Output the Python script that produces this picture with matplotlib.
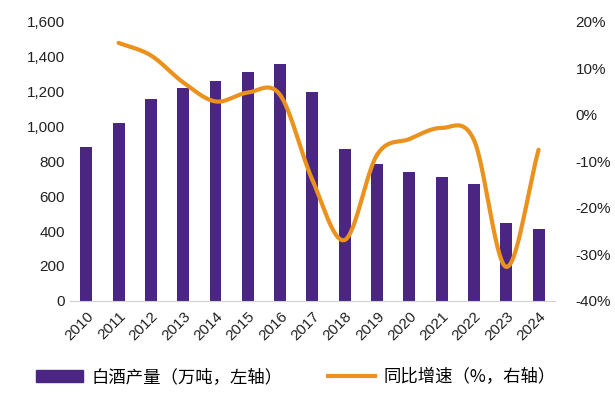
import numpy as np
import matplotlib.pyplot as plt
from matplotlib.patches import Patch
from matplotlib.lines import Line2D

plt.rcParams['font.family'] = ['Liberation Sans', 'Noto Sans CJK SC', 'DejaVu Sans']

years = ['2010', '2011', '2012', '2013', '2014', '2015', '2016', '2017',
         '2018', '2019', '2020', '2021', '2022', '2023', '2024']
output = [885, 1020, 1157, 1223, 1260, 1315, 1360, 1200,
          872, 785, 738, 713, 671, 445, 412]
growth = [None, 15.5, 12.8, 7.0, 2.9, 4.8, 4.3, -14.0,
          -26.9, -8.6, -5.2, -2.8, -5.4, -32.7, -7.5]

PURPLE = '#4a2682'
ORANGE = '#ea921d'


def smooth(xs, ys, n=30):
    # catmull-rom style smoothing like Excel's smoothed line
    xs = np.asarray(xs, float)
    ys = np.asarray(ys, float)
    px = np.concatenate([[2 * xs[0] - xs[1]], xs, [2 * xs[-1] - xs[-2]]])
    py = np.concatenate([[2 * ys[0] - ys[1]], ys, [2 * ys[-1] - ys[-2]]])
    out_x, out_y = [], []
    t = np.linspace(0, 1, n)
    for i in range(1, len(px) - 2):
        for p, o in ((px, out_x), (py, out_y)):
            p0, p1, p2, p3 = p[i - 1], p[i], p[i + 1], p[i + 2]
            o.extend(0.5 * (2 * p1 + (-p0 + p2) * t
                            + (2 * p0 - 5 * p1 + 4 * p2 - p3) * t ** 2
                            + (-p0 + 3 * p1 - 3 * p2 + p3) * t ** 3))
    return out_x, out_y


fig = plt.figure(figsize=(6.15, 3.99), dpi=100)
ax = fig.add_axes([0.114, 0.246, 0.788, 0.699])
x = np.arange(len(years))
ax.bar(x, output, width=0.37, color=PURPLE, zorder=2)
ax.set_ylim(0, 1600)
ax.set_yticks(range(0, 1601, 200))
ax.set_yticklabels([f'{v:,}' for v in range(0, 1601, 200)])
ax.set_xlim(-0.5, 14.5)
ax.set_xticks(x)
ax.set_xticklabels(years, rotation=45, ha='right', rotation_mode='anchor')
ax.tick_params(length=0, labelsize=11, colors='#222222')
ax.tick_params(axis='x', pad=6)
for s in ['top', 'right', 'left']:
    ax.spines[s].set_visible(False)
ax.spines['bottom'].set_color('#d0d0d0')

ax2 = ax.twinx()
gx = [i for i, g in enumerate(growth) if g is not None]
gy = [g for g in growth if g is not None]
sx, sy = smooth(gx, gy)
ax2.plot(sx, sy, color=ORANGE, lw=3, solid_capstyle='round', zorder=3)
ax2.set_ylim(-40, 20)
ax2.set_yticks(range(-40, 21, 10))
ax2.set_yticklabels([f'{v}%' for v in range(-40, 21, 10)])
ax2.tick_params(length=0, labelsize=11, colors='#222222', pad=15)
for s in ['top', 'right', 'left', 'bottom']:
    ax2.spines[s].set_visible(False)

handles = [Patch(color=PURPLE), Line2D([], [], color=ORANGE, lw=3)]
labels = ['白酒产量（万吨，左轴）', '同比增速（%，右轴）']
fig.legend(handles, labels, loc='center', bbox_to_anchor=(0.481, 0.055), ncol=2,
           frameon=False, handlelength=2.7, handletextpad=0.5, columnspacing=2.6,
           prop={'family': ['Noto Sans CJK SC'], 'size': 12.5})

fig.savefig('out.png', dpi=100)
